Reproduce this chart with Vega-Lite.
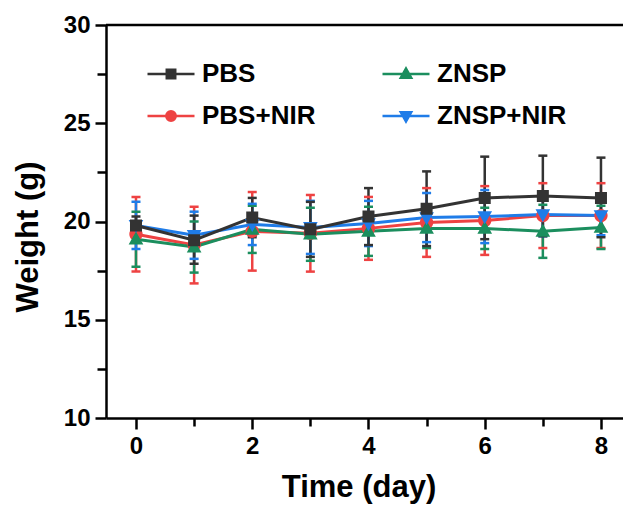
{
  "$schema": "https://vega.github.io/schema/vega-lite/v6.json",
  "width": 517,
  "height": 393,
  "autosize": {"type": "none"},
  "padding": {"left": 106, "top": 25, "right": 0, "bottom": 88},
  "background": "white",
  "config": {
    "view": {"stroke": null},
    "font": "Liberation Sans",
    "axis": {
      "grid": false,
      "domainColor": "#000000",
      "domainWidth": 2.5,
      "tickColor": "#000000",
      "tickWidth": 2.5,
      "labelFont": "Liberation Sans",
      "labelFontSize": 24,
      "labelFontWeight": "bold",
      "labelColor": "#000000",
      "titleFont": "Liberation Sans",
      "titleFontSize": 31,
      "titleFontWeight": "bold",
      "titleColor": "#000000"
    }
  },
  "data": {
    "values": [
      {"day": 0, "group": "PBS+NIR", "mean": 19.35, "lo": 17.45, "hi": 21.25},
      {"day": 1, "group": "PBS+NIR", "mean": 18.8, "lo": 16.85, "hi": 20.75},
      {"day": 2, "group": "PBS+NIR", "mean": 19.5, "lo": 17.5, "hi": 21.5},
      {"day": 3, "group": "PBS+NIR", "mean": 19.4, "lo": 17.45, "hi": 21.35},
      {"day": 4, "group": "PBS+NIR", "mean": 19.65, "lo": 18.05, "hi": 21.25},
      {"day": 5, "group": "PBS+NIR", "mean": 19.95, "lo": 18.2, "hi": 21.7},
      {"day": 6, "group": "PBS+NIR", "mean": 20.05, "lo": 18.3, "hi": 21.8},
      {"day": 7, "group": "PBS+NIR", "mean": 20.3, "lo": 18.65, "hi": 21.95},
      {"day": 8, "group": "PBS+NIR", "mean": 20.3, "lo": 18.65, "hi": 21.95},
      {"day": 0, "group": "ZNSP", "mean": 19.1, "lo": 17.7, "hi": 20.5},
      {"day": 1, "group": "ZNSP", "mean": 18.7, "lo": 17.4, "hi": 20.0},
      {"day": 2, "group": "ZNSP", "mean": 19.6, "lo": 18.4, "hi": 20.8},
      {"day": 3, "group": "ZNSP", "mean": 19.35, "lo": 18.0, "hi": 20.7},
      {"day": 4, "group": "ZNSP", "mean": 19.5, "lo": 18.25, "hi": 20.75},
      {"day": 5, "group": "ZNSP", "mean": 19.65, "lo": 18.65, "hi": 20.65},
      {"day": 6, "group": "ZNSP", "mean": 19.65, "lo": 18.6, "hi": 20.7},
      {"day": 7, "group": "ZNSP", "mean": 19.5, "lo": 18.15, "hi": 20.85},
      {"day": 8, "group": "ZNSP", "mean": 19.7, "lo": 18.6, "hi": 20.8},
      {"day": 0, "group": "ZNSP+NIR", "mean": 19.8, "lo": 18.6, "hi": 21.0},
      {"day": 1, "group": "ZNSP+NIR", "mean": 19.3, "lo": 18.1, "hi": 20.5},
      {"day": 2, "group": "ZNSP+NIR", "mean": 19.85, "lo": 18.8, "hi": 20.9},
      {"day": 3, "group": "ZNSP+NIR", "mean": 19.7, "lo": 18.35, "hi": 21.05},
      {"day": 4, "group": "ZNSP+NIR", "mean": 19.9, "lo": 18.75, "hi": 21.05},
      {"day": 5, "group": "ZNSP+NIR", "mean": 20.2, "lo": 18.95, "hi": 21.45},
      {"day": 6, "group": "ZNSP+NIR", "mean": 20.25, "lo": 18.9, "hi": 21.6},
      {"day": 7, "group": "ZNSP+NIR", "mean": 20.35, "lo": 19.25, "hi": 21.45},
      {"day": 8, "group": "ZNSP+NIR", "mean": 20.3, "lo": 19.3, "hi": 21.3},
      {"day": 0, "group": "PBS", "mean": 19.8, "lo": 19.35, "hi": 20.25},
      {"day": 1, "group": "PBS", "mean": 19.05, "lo": 17.85, "hi": 20.3},
      {"day": 2, "group": "PBS", "mean": 20.2, "lo": 19.2, "hi": 21.2},
      {"day": 3, "group": "PBS", "mean": 19.6, "lo": 18.2, "hi": 21.0},
      {"day": 4, "group": "PBS", "mean": 20.25, "lo": 18.8, "hi": 21.7},
      {"day": 5, "group": "PBS", "mean": 20.65, "lo": 18.75, "hi": 22.55},
      {"day": 6, "group": "PBS", "mean": 21.2, "lo": 19.1, "hi": 23.3},
      {"day": 7, "group": "PBS", "mean": 21.3, "lo": 19.25, "hi": 23.35},
      {"day": 8, "group": "PBS", "mean": 21.2, "lo": 19.2, "hi": 23.25}
    ]
  },
  "layer": [
    {
      "mark": {"type": "rule", "strokeWidth": 2.5},
      "encoding": {
        "x": {
          "field": "day", "type": "quantitative",
          "scale": {"domain": [-0.516, 8.379], "nice": false, "zero": false},
          "axis": {
            "title": "Time (day)",
            "values": [0, 1, 2, 3, 4, 5, 6, 7, 8],
            "format": "d",
            "labelExpr": "datum.value % 2 === 0 ? datum.label : ''",
            "tickSize": {"condition": {"test": "datum.value % 2 === 1", "value": 8}, "value": 11},
            "labelPadding": 5,
            "titleX": 252.5,
            "titleY": 78,
            "titleBaseline": "alphabetic"
          }
        },
        "y": {
          "field": "lo", "type": "quantitative",
          "scale": {"domain": [10, 30], "nice": false, "zero": false},
          "axis": {
            "title": "Weight (g)",
            "values": [10, 12.5, 15, 17.5, 20, 22.5, 25, 27.5, 30],
            "labelExpr": "datum.value % 5 === 0 ? datum.label : ''",
            "tickSize": {"condition": {"test": "datum.value % 5 !== 0", "value": 9}, "value": 11},
            "labelPadding": 5,
            "titleX": -69,
            "titleY": 211.5,
            "titleBaseline": "alphabetic"
          }
        },
        "y2": {"field": "hi"},
        "color": {
          "field": "group", "type": "nominal",
          "scale": {"domain": ["PBS", "ZNSP", "PBS+NIR", "ZNSP+NIR"], "range": ["#333333", "#1b8e5e", "#ee4242", "#1f7ce8"]}
        }
      }
    },
    {
      "mark": {"type": "tick", "orient": "horizontal", "size": 9, "thickness": 2.5, "opacity": 1},
      "encoding": {
        "x": {"field": "day", "type": "quantitative"},
        "y": {"field": "lo", "type": "quantitative"},
        "color": {"field": "group", "type": "nominal"}
      }
    },
    {
      "mark": {"type": "tick", "orient": "horizontal", "size": 9, "thickness": 2.5, "opacity": 1},
      "encoding": {
        "x": {"field": "day", "type": "quantitative"},
        "y": {"field": "hi", "type": "quantitative"},
        "color": {"field": "group", "type": "nominal"}
      }
    },
    {
      "mark": {"type": "line", "strokeWidth": 3},
      "encoding": {
        "x": {"field": "day", "type": "quantitative"},
        "y": {"field": "mean", "type": "quantitative"},
        "color": {"field": "group", "type": "nominal"}
      }
    },
    {
      "mark": {"type": "point", "filled": true, "opacity": 1, "strokeWidth": 0, "size": 4444},
      "encoding": {
        "x": {"field": "day", "type": "quantitative"},
        "y": {"field": "mean", "type": "quantitative"},
        "color": {
          "field": "group", "type": "nominal",
          "legend": {
            "orient": "none", "legendX": 40, "legendY": 24, "columns": 2,
            "values": ["PBS", "PBS+NIR", "ZNSP", "ZNSP+NIR"],
            "columnPadding": 61, "rowPadding": 4, "padding": 0, "title": null,
            "symbolSize": 2209, "symbolStrokeWidth": 2.5, "symbolOpacity": 1,
            "labelFont": "Liberation Sans", "labelFontSize": 26, "labelFontWeight": "bold",
            "labelColor": "#000000", "labelOffset": 6,
            "encode": {"symbols": {"update": {
              "stroke": {"scale": "color", "field": "value"},
              "fill": {"scale": "color", "field": "value"},
              "strokeWidth": {"value": 2.5},
              "opacity": {"value": 1}
            }}}
          }
        },
        "shape": {
          "field": "group", "type": "nominal",
          "scale": {
            "domain": ["PBS", "ZNSP", "PBS+NIR", "ZNSP+NIR"],
            "range": [
              "M-1,0H1M-0.18,-0.18H0.18V0.18H-0.18Z",
              "M-1,0H1M0,-0.23L0.22,0.16L-0.22,0.16Z",
              "M-1,0H1M0.2,0A0.2,0.2 0 1,1 -0.2,0A0.2,0.2 0 1,1 0.2,0Z",
              "M-1,0H1M0,0.23L0.22,-0.16L-0.22,-0.16Z"
            ]
          },
          "legend": {
            "orient": "none", "legendX": 40, "legendY": 24, "columns": 2,
            "values": ["PBS", "PBS+NIR", "ZNSP", "ZNSP+NIR"],
            "columnPadding": 61, "rowPadding": 4, "padding": 0, "title": null,
            "symbolSize": 2209, "symbolStrokeWidth": 2.5, "symbolOpacity": 1,
            "labelFont": "Liberation Sans", "labelFontSize": 26, "labelFontWeight": "bold",
            "labelColor": "#000000", "labelOffset": 6,
            "encode": {"symbols": {"update": {
              "stroke": {"scale": "color", "field": "value"},
              "fill": {"scale": "color", "field": "value"},
              "strokeWidth": {"value": 2.5},
              "opacity": {"value": 1}
            }}}
          }
        }
      }
    },
    {
      "data": {"values": [{"edge": 30}]},
      "mark": {"type": "rule", "strokeWidth": 2.5, "color": "#000000"},
      "encoding": {
        "y": {"field": "edge", "type": "quantitative"}
      }
    }
  ]
}
